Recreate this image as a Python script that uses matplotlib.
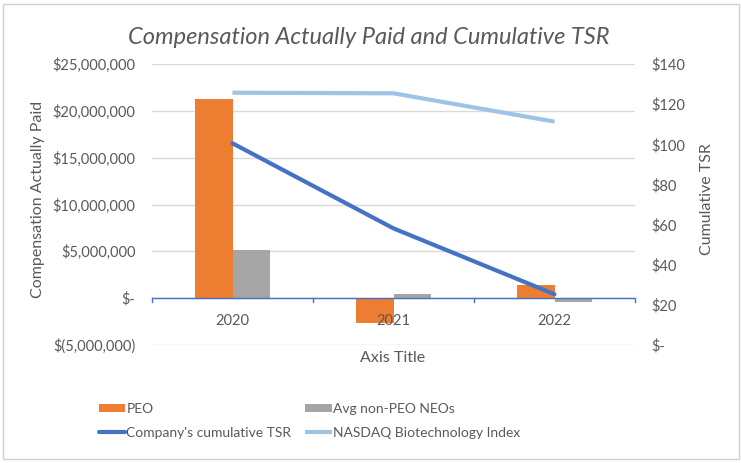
import numpy as np
import matplotlib.pyplot as plt
from matplotlib.patches import Rectangle
from matplotlib.ticker import FuncFormatter

years = ["2020", "2021", "2022"]
peo = [21300000, -2600000, 1400000]
non_peo = [5100000, 430000, -400000]
company_tsr = [100.5, 58.1, 25.3]
nasdaq_tsr = [125.7, 125.4, 111.3]

txt = "#595959"
plt.rcParams['font.family'] = ['Lato', 'DejaVu Sans']

fig = plt.figure(figsize=(7.41, 4.63), dpi=100)
fig.patches.append(Rectangle((3 / 741, 4 / 463), 736 / 741, 455 / 463, transform=fig.transFigure,
                             fill=False, edgecolor="#d0d0d0", lw=1))

# plot area in pixels: x 152..635, y 64..345
ax = fig.add_axes([152 / 741, 1 - 345 / 463, 483 / 741, 281 / 463])
ax2 = ax.twinx()

x = np.arange(len(years))
w = 0.236
ax.bar(x - w / 2, peo, w, color="#ED7D31", label="PEO", zorder=2)
ax.bar(x + w / 2, non_peo, w, color="#A5A5A5", label="Avg non-PEO NEOs", zorder=2)

ax.set_xlim(-0.5, 2.5)
ax.set_ylim(-5e6, 25e6)
ax.set_yticks(np.arange(-5e6, 25e6 + 1, 5e6))


def money(v, pos):
    if v == 0:
        return "$-"
    if v < 0:
        return "$({:,.0f})".format(-v)
    return "${:,.0f}".format(v)


ax.yaxis.set_major_formatter(FuncFormatter(money))
ax.grid(axis="y", color="#d9d9d9", lw=1, zorder=0)
ax.axhline(0, color="#4472C4", lw=1, zorder=3)
for b in [-0.5, 0.5, 1.5, 2.5]:
    ax.plot([b, b], [0, -0.45e6], color="#4472C4", lw=1, zorder=3, clip_on=False)
ax.set_xticks([])
for i, yr in enumerate(years):
    ax.text(i, -1.7e6, yr, ha="center", va="top", color=txt, fontsize=10.5)
ax.tick_params(axis="y", length=0, labelsize=10.5, labelcolor=txt, pad=12)

ax2.plot(x, company_tsr, color="#4472C4", lw=3, label="Company's cumulative TSR",
         solid_capstyle="round", zorder=4)
ax2.plot(x, nasdaq_tsr, color="#9DC3E6", lw=3, label="NASDAQ Biotechnology Index",
         solid_capstyle="butt", zorder=4)
ax2.set_ylim(0, 140)
ax2.set_yticks(np.arange(0, 141, 20))
ax2.yaxis.set_major_formatter(FuncFormatter(lambda v, p: "$-" if v == 0 else "${:.0f}".format(v)))
ax2.tick_params(axis="y", length=0, labelsize=10.5, labelcolor=txt, pad=12)

for a in (ax, ax2):
    for s in a.spines.values():
        s.set_visible(False)

fig.text(369 / 741, 1 - 37 / 463, "Compensation Actually Paid and Cumulative TSR",
         ha="center", va="center", fontsize=17, style="italic", color=txt)
fig.text(38 / 741, 1 - 199 / 463, "Compensation Actually Paid", rotation=90,
         ha="center", va="center", fontsize=11.5, color=txt)
fig.text(707 / 741, 1 - 199 / 463, "Cumulative TSR", rotation=90,
         ha="center", va="center", fontsize=11.5, color=txt)
fig.text(393 / 741, 1 - 358 / 463, "Axis Title", ha="center", va="center",
         fontsize=11.5, color=txt)

h1, l1 = ax.get_legend_handles_labels()
h2, l2 = ax2.get_legend_handles_labels()
handles = [h1[0], h2[0], h1[1], h2[1]]
labels = [l1[0], l2[0], l1[1], l2[1]]
leg = fig.legend(handles, labels, ncol=2, loc="center left",
                 bbox_to_anchor=(86 / 741, 1 - 421 / 463), frameon=False,
                 fontsize=10, handlelength=1.9, handleheight=0.5, handletextpad=0.1,
                 columnspacing=1.0, labelspacing=0.85)
for t in leg.get_texts():
    t.set_color(txt)

fig.savefig("out.png", dpi=100)
